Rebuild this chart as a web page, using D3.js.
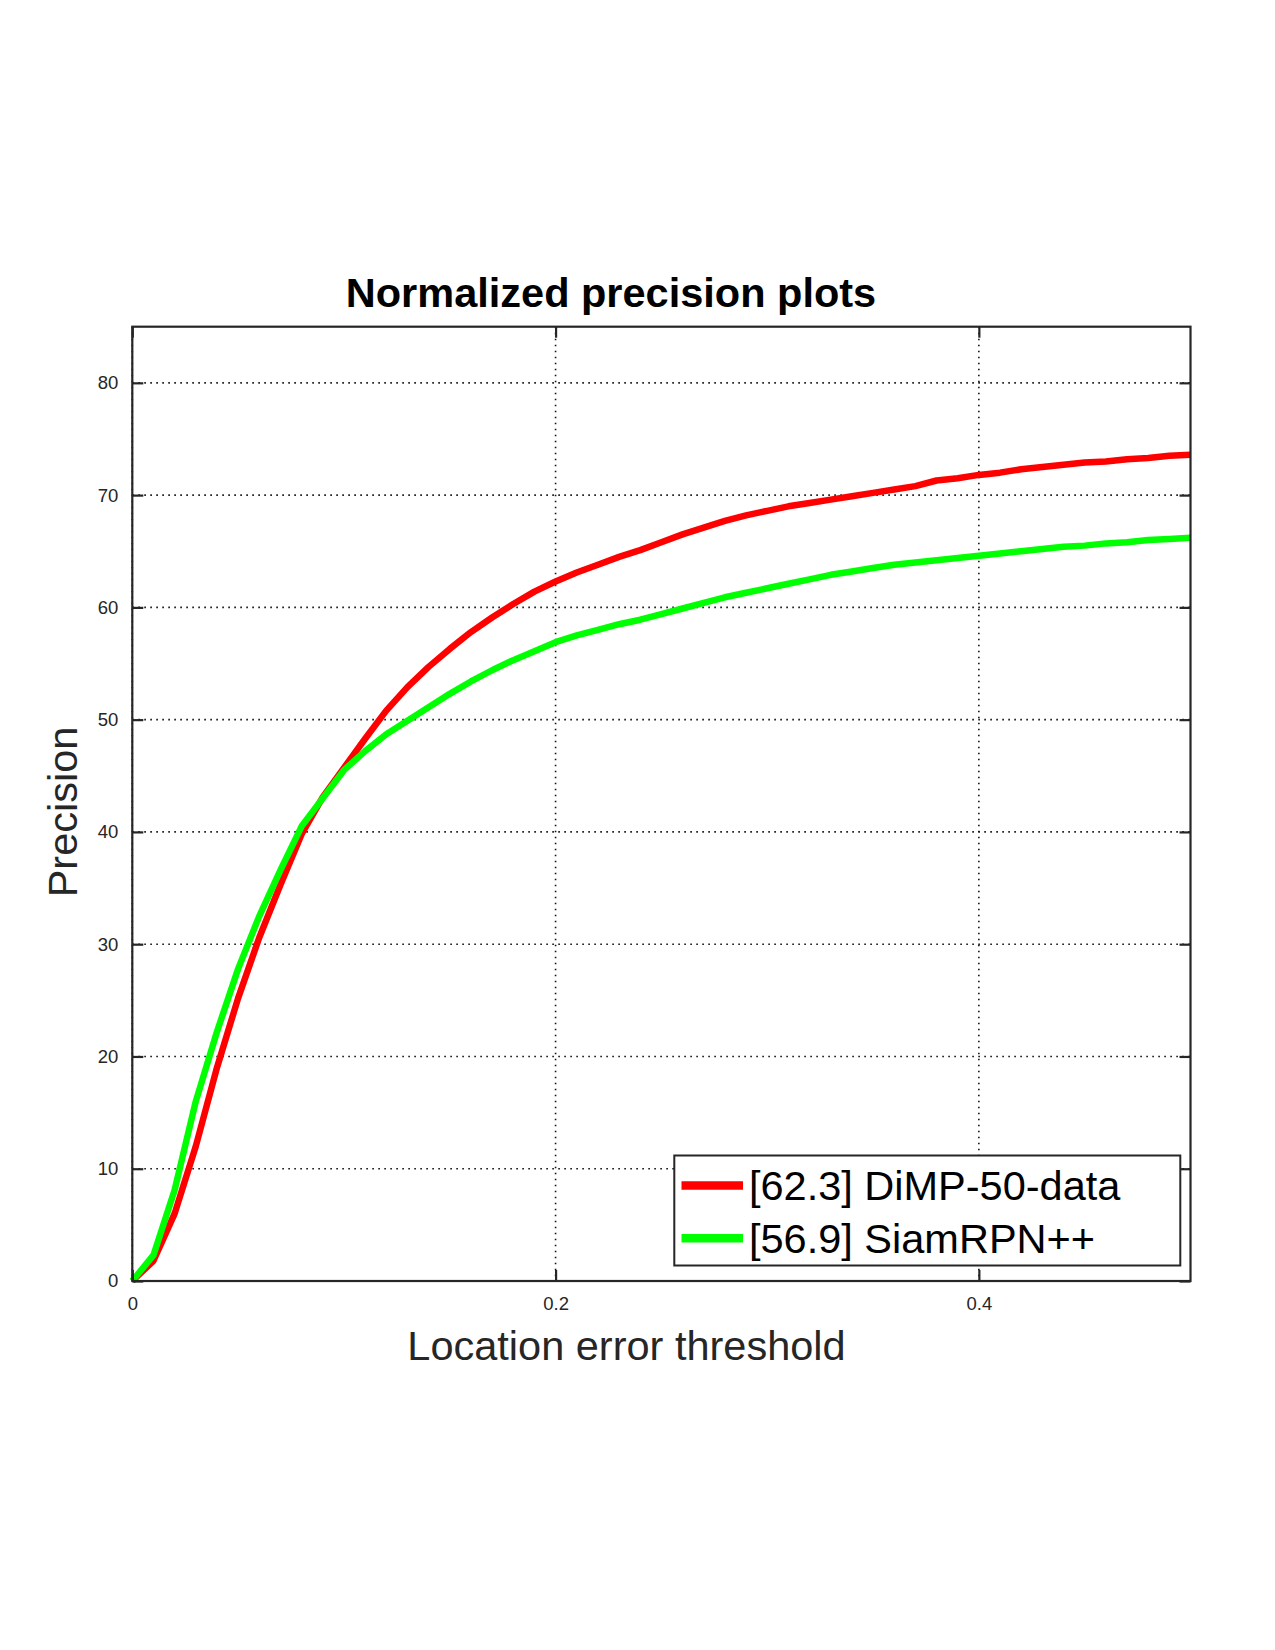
<!DOCTYPE html>
<html>
<head>
<meta charset="utf-8">
<script src="https://d3js.org/d3.v7.min.js"></script>
<style>
    body { margin: 0; background: #fff; }
    text { font-family: "Liberation Sans", Arial, sans-serif; }
</style>
</head>
<body>
<div id="chart"></div>
<script>
    // thresholds 0 .. 0.5 step 0.01
    var thresholds = d3.range(0, 51).map(function (i) { return i / 100; });

    var dimpValues = [0, 1.8, 6.0, 12.0, 19.0, 25.2, 30.6, 35.3, 39.8, 43.1, 45.7,
        48.3, 50.8, 52.9, 54.7, 56.3, 57.8, 59.1, 60.3, 61.4, 62.3,
        63.1, 63.8, 64.5, 65.1, 65.8, 66.5, 67.1, 67.7, 68.2, 68.6,
        69.0, 69.3, 69.6, 69.9, 70.2, 70.5, 70.8, 71.3, 71.5, 71.8,
        72.0, 72.3, 72.5, 72.7, 72.9, 73.0, 73.2, 73.3, 73.5, 73.6];

    var siamValues = [0, 2.3, 8.1, 16.0, 22.2, 27.8, 32.5, 36.6, 40.5, 43.0, 45.5,
        47.2, 48.7, 49.9, 51.1, 52.3, 53.4, 54.4, 55.3, 56.1, 56.9,
        57.5, 58.0, 58.5, 58.9, 59.4, 59.9, 60.4, 60.9, 61.3, 61.7,
        62.1, 62.5, 62.9, 63.2, 63.5, 63.8, 64.0, 64.2, 64.4, 64.6,
        64.8, 65.0, 65.2, 65.4, 65.5, 65.7, 65.8, 66.0, 66.1, 66.2];

    var seriesNames = ["[62.3] DiMP-50-data", "[56.9] SiamRPN++"];
    var seriesColors = ["#ff0000", "#00ff00"];
    var xTicks = [0, 0.2, 0.4];
    var yTicks = [0, 10, 20, 30, 40, 50, 60, 70, 80];

    var W = 1275, H = 1650;
    var pLeft = 132.3, pRight = 1190.5, pTop = 326.7, pBottom = 1281;

    var svg = d3.select("#chart").append("svg")
        .attr("width", W).attr("height", H);

    var x = d3.scaleLinear().domain([0, 0.5]).range([pLeft, pRight]);
    var y = d3.scaleLinear().domain([0, 85]).range([pBottom, pTop]);

    // grid
    var grid = svg.append("g").attr("class", "grid");
    grid.selectAll(".gx").data(xTicks).enter().append("line")
        .attr("x1", function (d) { return x(d); }).attr("x2", function (d) { return x(d); })
        .attr("y1", pTop).attr("y2", pBottom);
    grid.selectAll(".gy").data(yTicks).enter().append("line")
        .attr("x1", pLeft).attr("x2", pRight)
        .attr("y1", function (d) { return y(d); }).attr("y2", function (d) { return y(d); });
    grid.selectAll("line")
        .attr("stroke", "#111")
        .attr("stroke-width", 1.6)
        .attr("stroke-dasharray", "1.6,4.4");

    // curves
    var line = d3.line()
        .x(function (d) { return x(d[0]); })
        .y(function (d) { return y(d[1]); });

    [dimpValues, siamValues].forEach(function (vals, i) {
        svg.append("path")
            .datum(thresholds.map(function (t, j) { return [t, vals[j]]; }))
            .attr("d", line)
            .attr("fill", "none")
            .attr("stroke", seriesColors[i])
            .attr("stroke-width", 6.5)
            .attr("stroke-linejoin", "round");
    });

    // axes, ticks pointing inward on all four sides
    var axisColor = "#262626";
    var tickLen = 11;

    var gBottom = svg.append("g").attr("transform", "translate(0," + pBottom + ")")
        .call(d3.axisBottom(x).tickValues(xTicks).tickSize(-tickLen).tickPadding(16)
            .tickFormat(function (d) { return d === 0 ? "0" : d3.format(".1f")(d); }));
    var gTop = svg.append("g").attr("transform", "translate(0," + pTop + ")")
        .call(d3.axisTop(x).tickValues(xTicks).tickSize(-tickLen).tickFormat(""));
    var gLeft = svg.append("g").attr("transform", "translate(" + pLeft + ",0)")
        .call(d3.axisLeft(y).tickValues(yTicks).tickSize(-tickLen).tickPadding(14));
    var gRight = svg.append("g").attr("transform", "translate(" + pRight + ",0)")
        .call(d3.axisRight(y).tickValues(yTicks).tickSize(-tickLen).tickFormat(""));

    [gBottom, gTop, gLeft, gRight].forEach(function (g) {
        g.select(".domain").remove();
        g.selectAll(".tick line").attr("stroke", axisColor).attr("stroke-width", 2.2);
        g.selectAll(".tick text")
            .attr("fill", axisColor)
            .style("font-family", "'Liberation Sans', Arial, sans-serif")
            .style("font-size", "18.5px");
    });

    svg.append("rect")
        .attr("x", pLeft).attr("y", pTop)
        .attr("width", pRight - pLeft).attr("height", pBottom - pTop)
        .attr("fill", "none")
        .attr("stroke", axisColor)
        .attr("stroke-width", 2.2);

    // legend
    var legend = svg.append("g");
    legend.append("rect")
        .attr("x", 674.3).attr("y", 1155.5)
        .attr("width", 506).attr("height", 110)
        .attr("fill", "#fff")
        .attr("stroke", axisColor)
        .attr("stroke-width", 2);
    seriesNames.forEach(function (name, i) {
        var ly = 1185.6 + i * 52.6;
        legend.append("line")
            .attr("x1", 681.5).attr("x2", 743)
            .attr("y1", ly).attr("y2", ly)
            .attr("stroke", seriesColors[i])
            .attr("stroke-width", 8.5);
        legend.append("text")
            .attr("x", 749).attr("y", ly + 14.5)
            .attr("fill", "#000")
            .style("font-size", "41.5px")
            .text(name);
    });

    // title and labels
    svg.append("text")
        .attr("x", 611).attr("y", 307)
        .attr("text-anchor", "middle")
        .attr("fill", "#000")
        .style("font-size", "41.5px")
        .style("font-weight", "bold")
        .text("Normalized precision plots");

    svg.append("text")
        .attr("x", 626.5).attr("y", 1360)
        .attr("text-anchor", "middle")
        .attr("fill", axisColor)
        .style("font-size", "41.5px")
        .text("Location error threshold");

    svg.append("text")
        .attr("transform", "translate(77,812) rotate(-90)")
        .attr("text-anchor", "middle")
        .attr("fill", axisColor)
        .style("font-size", "41.5px")
        .text("Precision");
</script>
</body>
</html>
